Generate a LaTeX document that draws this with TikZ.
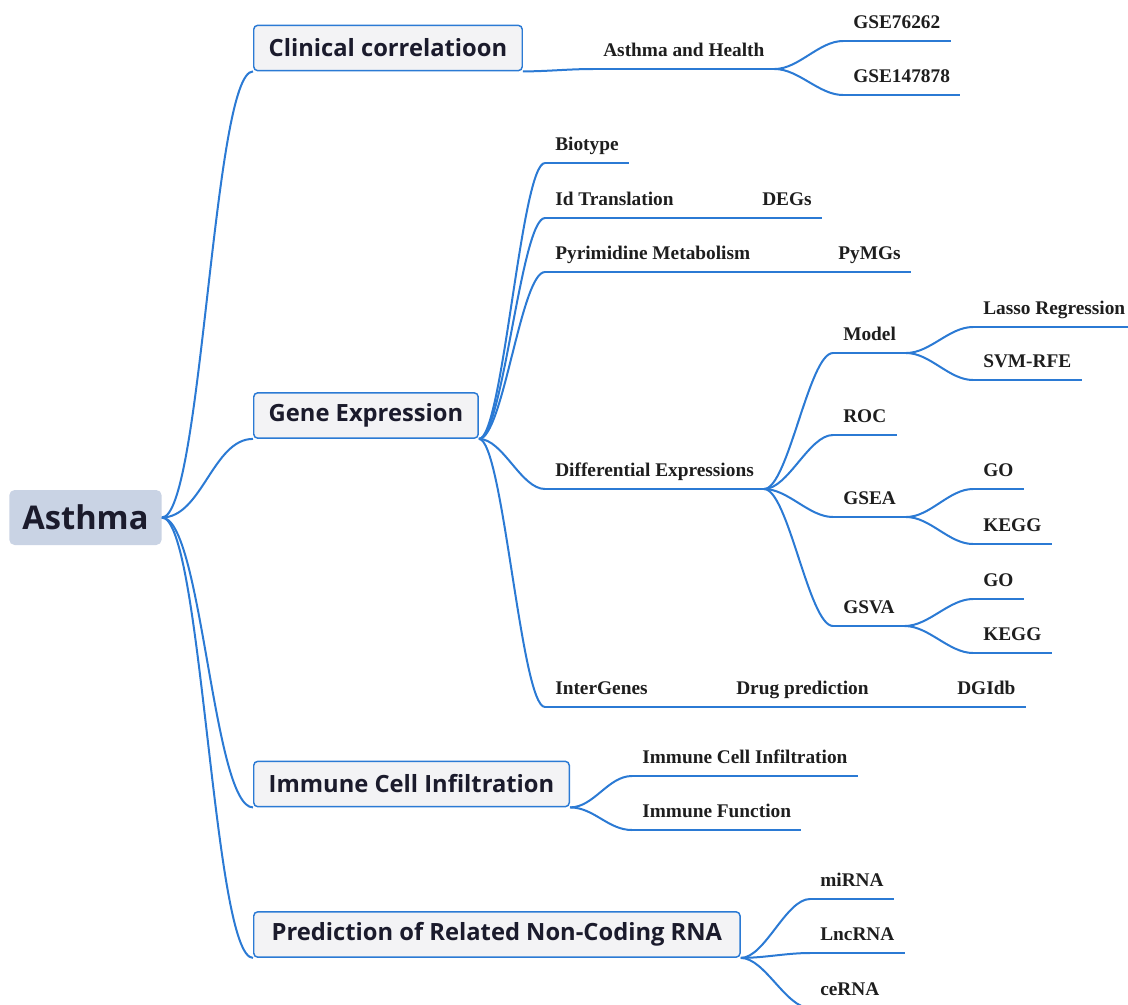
\documentclass[tikz,border=0pt]{standalone}
\usepackage{fontspec}
\setmainfont{Liberation Serif}
\newfontfamily\topicfont{Open Sans}
\usetikzlibrary{positioning,calc}
\definecolor{MapLine}{HTML}{2B7AD4}
\definecolor{MapInk}{HTML}{1B1B2C}
\definecolor{MapTopic}{HTML}{F3F3F5}
\definecolor{MapRoot}{HTML}{C9D3E4}
\definecolor{MapLeafInk}{HTML}{1E1E1E}

\begin{document}
\begin{tikzpicture}[x=0.75pt,y=-0.75pt,
    every node/.style={inner sep=0pt},
    branch/.style={to path={.. controls +(#1,0) and +(-#1,0) .. (\tikztotarget)}},
    branch/.default=24]
  \tikzset{topic/.style={rounded corners=3pt,draw=MapLine,line width=1.1pt,fill=MapTopic,
      minimum height=34pt,inner xsep=11.25pt,anchor=west,text=MapInk,
      font=\topicfont\bfseries\fontsize{17.8}{20}\selectfont},
    leaf/.style={anchor=south west,inner xsep=7.5pt,inner ysep=0pt,text height=11pt,
      text depth=9pt,text=MapLeafInk,font=\bfseries\fontsize{14.5}{17}\selectfont}}
  \useasboundingbox (0,0) rectangle (1128,1004);
  % root and main topics
  \node[rounded corners=4pt,fill=MapRoot,minimum height=41.25pt,inner xsep=9.8pt,anchor=west,
    text=MapInk,font=\topicfont\bfseries\fontsize{24.5}{28}\selectfont] (asthma) at (9,517.5) {Asthma};
  \node[topic] (clin) at (253,48) {Clinical correlatioon};
  \node[topic] (gene) at (253,415.5) {Gene Expression};
  \node[topic] (immune) at (253,784) {Immune Cell Infiltration};
  \node[topic,inner xsep=13.5pt] (ncrna) at (253,934.5) {Prediction of Related Non-Coding RNA};
  % leaves
  \node[leaf] (ah) at (593,69) {Asthma and Health};
  \node[leaf] (gse1) at (843,41) {GSE76262};
  \node[leaf] (gse2) at (843,95) {GSE147878};
  \node[leaf] (bio) at (545,163) {Biotype};
  \node[leaf] (idt) at (545,218) {Id Translation};
  \node[leaf] (degs) at (752,218) {DEGs};
  \node[leaf] (pyr) at (545,272) {Pyrimidine Metabolism};
  \node[leaf] (pymg) at (828,272) {PyMGs};
  \node[leaf] (diff) at (545,489) {Differential Expressions};
  \node[leaf] (model) at (833,353) {Model};
  \node[leaf] (lasso) at (973,327) {Lasso Regression};
  \node[leaf] (svm) at (973,380) {SVM-RFE};
  \node[leaf] (roc) at (833,435) {ROC};
  \node[leaf] (gsea) at (833,517) {GSEA};
  \node[leaf] (gseago) at (973,489) {GO};
  \node[leaf] (gseakegg) at (973,544) {KEGG};
  \node[leaf] (gsva) at (833,626) {GSVA};
  \node[leaf] (gsvago) at (973,599) {GO};
  \node[leaf] (gsvakegg) at (973,653) {KEGG};
  \node[leaf] (inter) at (545,707) {InterGenes};
  \node[leaf] (drug) at (726,707) {Drug prediction};
  \node[leaf] (dgidb) at (947,707) {DGIdb};
  \node[leaf] (ici) at (632,776) {Immune Cell Infiltration};
  \node[leaf] (ifn) at (632,830) {Immune Function};
  \node[leaf] (mirna) at (810,899) {miRNA};
  \node[leaf] (lnc) at (810,953) {LncRNA};
  \node[leaf] (cerna) at (810,1008) {ceRNA};
  % underlines and branches
  \foreach \n in {ah,gse1,gse2,bio,idt,degs,pyr,pymg,diff,model,lasso,svm,roc,gsea,gseago,
      gseakegg,gsva,gsvago,gsvakegg,inter,drug,dgidb,ici,ifn,mirna,lnc,cerna}
    {\draw[MapLine,line width=1.5pt] (\n.south west) -- (\n.south east);}
  \foreach \b in {clin,gene,immune,ncrna}
    {\draw[MapLine,line width=1.5pt] (asthma.east) to[branch=40] (\b.south west);}
  \foreach \a/\b in {clin/ah,ah/gse1,ah/gse2,gene/bio,gene/idt,gene/pyr,gene/diff,gene/inter,
      idt/degs,pyr/pymg,diff/model,diff/roc,diff/gsea,diff/gsva,model/lasso,model/svm,
      gsea/gseago,gsea/gseakegg,gsva/gsvago,gsva/gsvakegg,inter/drug,drug/dgidb,
      immune/ici,immune/ifn,ncrna/mirna,ncrna/lnc,ncrna/cerna}
    {\draw[MapLine,line width=1.5pt] (\a.south east) to[branch] (\b.south west);}
\end{tikzpicture}
\end{document}
